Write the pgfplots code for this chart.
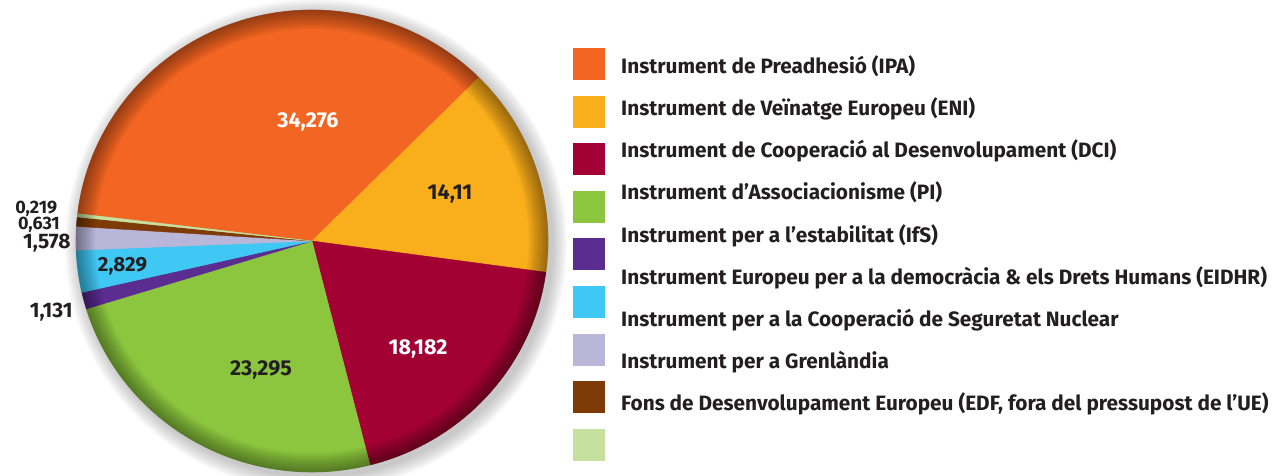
\documentclass[border=0pt]{standalone}
\usepackage{pgfplots}
\pgfplotsset{compat=1.18}
\usepackage{pgfplotstable}
\usepackage{fontspec}
\setmainfont{Fira Sans}
\definecolor{cIPA}{HTML}{F26522}
\definecolor{cENI}{HTML}{F9AE1B}
\definecolor{cDCI}{HTML}{A30034}
\definecolor{cPI}{HTML}{8CC63F}
\definecolor{cIfS}{HTML}{5C2D91}
\definecolor{cEIDHR}{HTML}{40C8F4}
\definecolor{cINSC}{HTML}{BAB6DA}
\definecolor{cGRL}{HTML}{7E3A07}
\definecolor{cEDF}{HTML}{C6E09F}
\definecolor{txt}{HTML}{231F20}
\pgfplotstableread[col sep=comma]{
name,value,color
IPA,34.276,cIPA
ENI,14.11,cENI
DCI,18.182,cDCI
PI,23.295,cPI
IfS,1.131,cIfS
EIDHR,2.829,cEIDHR
INSC,1.578,cINSC
GRL,0.631,cGRL
EDF,0.219,cEDF
}\piedata
\begin{document}
\begin{tikzpicture}
\begin{axis}[x=1pt, y=1pt, xmin=0, xmax=1275, ymin=0, ymax=476,
  hide axis, clip=false]
\coordinate (SW) at (axis cs:0,0);
\coordinate (NE) at (axis cs:1275,476);
% drop shadow
\pgfplotsinvokeforeach{1,...,10}{
  \fill[black, opacity=0.022] (axis cs:316,231) ellipse [x radius={236pt+1.5pt*#1}, y radius={231pt+1.5pt*#1}];
}
% total and slices
\pgfmathsetmacro\total{0}
\pgfplotsforeachungrouped \i in {0,...,8}{%
  \pgfplotstablegetelem{\i}{value}\of\piedata
  \pgfmathsetmacro\total{\total+\pgfplotsretval}%
}
\pgfplotstablegetelem{0}{value}\of\piedata
\pgfmathsetmacro\cur{45+360*\pgfplotsretval/\total}
\pgfplotsforeachungrouped \i in {0,...,8}{%
  \pgfplotstablegetelem{\i}{value}\of\piedata \let\v\pgfplotsretval
  \pgfplotstablegetelem{\i}{color}\of\piedata \let\c\pgfplotsretval
  \pgfmathsetmacro\nxt{\cur-360*\v/\total}%
  \edef\doslice{\noexpand\addplot[fill=\c, draw=\c, line width=0.4pt, domain=\nxt:\cur, samples=100] ({312+236*cos(x)}, {235+231*sin(x)}) -- (axis cs:312,235) -- cycle;}%
  \doslice
  \let\cur\nxt
}
% rim shading
\pgfplotsinvokeforeach{1,...,12}{
  \fill[black, opacity=0.035, even odd rule] (axis cs:312,235) ellipse [x radius=236.3pt, y radius=231.3pt] (axis cs:312,235) ellipse [x radius={236pt-1.6pt*#1}, y radius={231pt-1.6pt*#1}];
}
% value labels
\begin{scope}[every node/.style={inner sep=0pt, font=\fontsize{21.5}{24}\selectfont\bfseries}]
\node[anchor=base, white] at (axis cs:308,348) {34,276};
\node[anchor=base, txt] at (axis cs:450,276) {14,11};
\node[anchor=base, white] at (axis cs:418,121) {18,182};
\node[anchor=base, txt] at (axis cs:261,100) {23,295};
\node[anchor=base, txt, font=\fontsize{20.5}{22}\selectfont\bfseries] at (axis cs:122.5,204) {2,829};
\node[anchor=base east, txt, font=\fontsize{18}{20}\selectfont\bfseries] at (axis cs:57.5,262.4) {0,219};
\node[anchor=base east, txt, font=\fontsize{18}{20}\selectfont\bfseries] at (axis cs:60,246.3) {0,631};
\node[anchor=base east, txt, font=\fontsize{21}{22}\selectfont\bfseries] at (axis cs:70.7,227.7) {1,578};
\node[anchor=base east, txt, font=\fontsize{21}{22}\selectfont\bfseries] at (axis cs:72.7,158.7) {1,131};
\end{scope}
% legend
\fill[cIPA]   (axis cs:573,396.0) rectangle (axis cs:605,428.0);
\fill[cENI]   (axis cs:573,348.4) rectangle (axis cs:605,380.4);
\fill[cDCI]   (axis cs:573,300.8) rectangle (axis cs:605,332.8);
\fill[cPI]    (axis cs:573,253.2) rectangle (axis cs:605,285.2);
\fill[cIfS]   (axis cs:573,205.6) rectangle (axis cs:605,237.6);
\fill[cEIDHR] (axis cs:573,158.0) rectangle (axis cs:605,190.0);
\fill[cINSC]  (axis cs:573,110.4) rectangle (axis cs:605,142.4);
\fill[cGRL]   (axis cs:573,62.8)  rectangle (axis cs:605,94.8);
\fill[cEDF]   (axis cs:573,15.2)  rectangle (axis cs:605,47.2);
\begin{scope}[every node/.style={inner sep=0pt, anchor=base west, txt, font=\fontsize{20.8}{24}\selectfont\bfseries}]
\node at (axis cs:621,402.7) {Instrument de Preadhesió (IPA)};
\node at (axis cs:621,360.5) {Instrument de Veïnatge Europeu (ENI)};
\node at (axis cs:621,318.3) {Instrument de Cooperació al Desenvolupament (DCI)};
\node at (axis cs:621,276.1) {Instrument d’Associacionisme (PI)};
\node at (axis cs:621,233.9) {Instrument per a l’estabilitat (IfS)};
\node at (axis cs:621,191.7) {Instrument Europeu per a la democràcia \& els Drets Humans (EIDHR)};
\node at (axis cs:621,149.5) {Instrument per a la Cooperació de Seguretat Nuclear};
\node at (axis cs:621,107.3) {Instrument per a Grenlàndia};
\node at (axis cs:621,65.1) {Fons de Desenvolupament Europeu (EDF, fora del pressupost de l’UE)};
\end{scope}
\end{axis}
\pgfresetboundingbox
\path[use as bounding box] (SW) rectangle (NE);
\end{tikzpicture}
\end{document}
